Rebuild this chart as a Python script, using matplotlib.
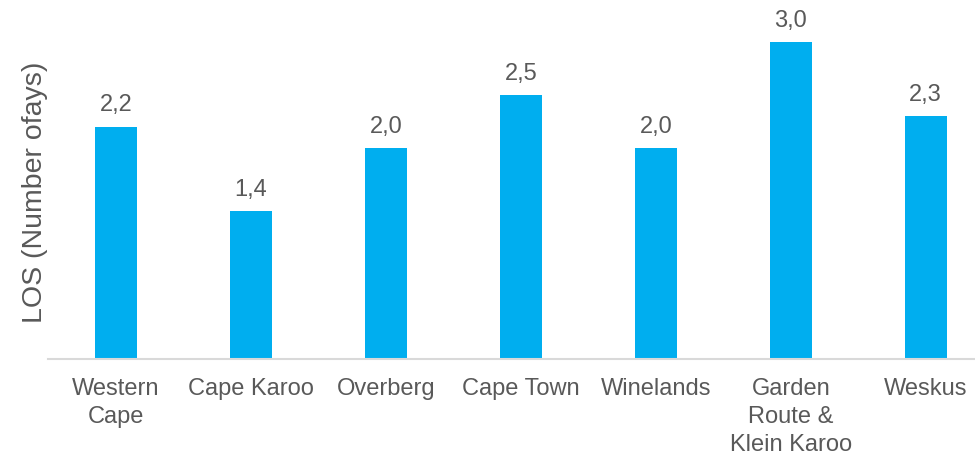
import matplotlib.pyplot as plt

regions = ["Western\nCape", "Cape Karoo", "Overberg", "Cape Town", "Winelands",
           "Garden\nRoute &\nKlein Karoo", "Weskus"]
los = [2.2, 1.4, 2.0, 2.5, 2.0, 3.0, 2.3]

plt.rcParams['font.family'] = ['Liberation Sans', 'DejaVu Sans']
grey = '#595959'

fig = plt.figure(figsize=(9.75, 4.56), dpi=100)
ax = fig.add_axes([0.0497, 0.2105, 0.969, 0.737])

x = list(range(len(regions)))
bars = ax.bar(x, los, width=0.31, color='#00AEEF')

for b, v in zip(bars, los):
    ax.annotate(f"{v:.1f}".replace('.', ','), (b.get_x() + b.get_width() / 2, v),
                xytext=(0, 8), textcoords='offset points', ha='center', va='bottom',
                fontsize=17, color=grey, annotation_clip=False)

ax.set_xlim(-0.5, len(regions) - 0.5)
ax.set_ylim(0, 3.18)
ax.set_xticks(x)
ax.set_xticklabels(regions, fontsize=17, color=grey, linespacing=1.35)
ax.tick_params(axis='x', length=0, pad=13)
ax.set_yticks([])
ax.set_ylabel("LOS (Number ofays)", fontsize=20.5, color=grey, labelpad=0)

for s in ['top', 'right', 'left']:
    ax.spines[s].set_visible(False)
ax.spines['bottom'].set_color('#D9D9D9')
ax.spines['bottom'].set_linewidth(1.5)

fig.savefig('out.png', dpi=100)
